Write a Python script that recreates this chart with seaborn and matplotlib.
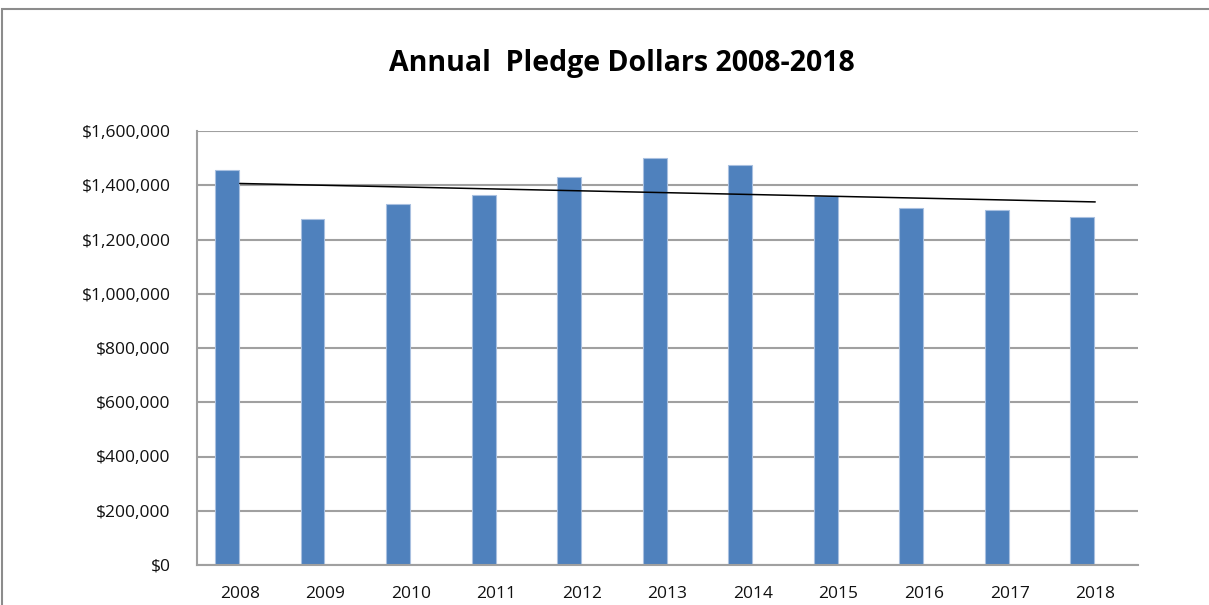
import numpy as np
import pandas as pd
import matplotlib
matplotlib.use("Agg")
import matplotlib.pyplot as plt
import matplotlib.ticker as mticker
from matplotlib.patches import Rectangle
import seaborn as sns

# values
years = ["2008", "2009", "2010", "2011", "2012", "2013",
         "2014", "2015", "2016", "2017", "2018"]
pledges = [1457000, 1276000, 1330000, 1365000, 1429000, 1499000,
           1475000, 1360000, 1315000, 1310000, 1282000]
title = "Annual  Pledge Dollars 2008-2018"

df = pd.DataFrame({"Year": years, "Pledge": pledges})

sns.set_style("white")
plt.rcParams["font.family"] = ["Open Sans", "DejaVu Sans"]

W, H = 1209, 605
fig = plt.figure(figsize=(W / 100, H / 100), dpi=100)
ax = fig.add_axes([197 / W, 1 - 565 / H, (1138 - 197) / W, (565 - 131) / H])

grid_col = "#a0a0a0"
sns.barplot(data=df, x="Year", y="Pledge", ax=ax, color="#4f81bd",
            saturation=1, width=0.28, edgecolor="#a9c0e0", linewidth=0.8,
            zorder=2)
# in the original the bars sit a little left of the category centre
for p in ax.patches:
    p.set_x(p.get_x() - 0.15)

# linear trend line (Excel style) computed from the data
xs = np.arange(len(years))
slope, icpt = np.polyfit(xs, pledges, 1)
ax.plot(xs, slope * xs + icpt, color="black", lw=1.1, zorder=3)

ax.set_xlim(-0.5, len(years) - 0.5)
ax.set_ylim(0, 1600000)
ax.yaxis.set_major_locator(mticker.MultipleLocator(200000))
ax.yaxis.set_major_formatter(mticker.FuncFormatter(lambda v, p: f"${v:,.0f}"))
ax.yaxis.grid(True, color=grid_col, lw=1.5, zorder=0)
ax.set_axisbelow(True)

# x ticks sit on the category boundaries, labels in the middle
ax.set_xticks(np.arange(len(years) + 1) - 0.5)
ax.set_xticklabels([])
ax.set_xticks(xs, minor=True)
ax.set_xticklabels(years, minor=True)
ax.tick_params(axis="x", which="major", direction="out", length=6,
               width=1.2, color=grid_col)
ax.tick_params(axis="x", which="minor", length=0, pad=15, labelsize=12.5,
               labelcolor="#111111")
ax.tick_params(axis="y", direction="out", length=7, width=1.2,
               color=grid_col, pad=12, labelsize=12.5, labelcolor="#111111")
ax.set_xlabel("")
ax.set_ylabel("")

for side in ["top", "right"]:
    ax.spines[side].set_visible(False)
for side in ["left", "bottom"]:
    ax.spines[side].set_color(grid_col)
    ax.spines[side].set_linewidth(1.5)

fig.text(622 / W, 1 - 64 / H, title, ha="center", va="center",
         fontsize=20.5, fontweight="bold", color="black")

# chart frame, right and bottom sides fall outside the picture
fig.patches.append(Rectangle((2 / W, -0.1), 1.2, 1 - 9 / H + 0.1,
                             transform=fig.transFigure, fill=False,
                             edgecolor="#8c8c8c", lw=1.5))

fig.savefig("out.png", dpi=100)
